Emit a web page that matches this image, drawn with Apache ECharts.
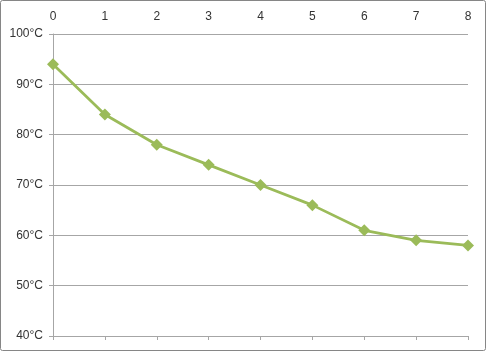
<!DOCTYPE html>
<html><head><meta charset="utf-8">
<script src="https://cdn.jsdelivr.net/npm/echarts@6/dist/echarts.min.js"></script>
<style>html,body{margin:0;padding:0;background:#fff}#c{width:487px;height:352px}</style>
</head><body><div id="c"></div>
<script>
const categories = ['0','1','2','3','4','5','6','7','8'];
const temps = [94, 84, 78, 74, 70, 66, 61, 59, 58];
const yTicks = [40, 50, 60, 70, 80, 90, 100];

const chart = echarts.init(document.getElementById('c'), null, {renderer: 'canvas'});
const font = 'Liberation Sans';
chart.setOption({
  animation: false,
  backgroundColor: '#fff',
  graphic: [{type: 'rect', shape: {x: 0.5, y: 0.5, width: 485, height: 350, r: 2},
    style: {fill: 'none', stroke: '#868686', lineWidth: 1}, silent: true, z: 100}],
  grid: {left: 53, right: 19, top: 34, bottom: 16, containLabel: false},
  xAxis: [{
    type: 'category', data: categories, boundaryGap: false, position: 'bottom',
    axisLine: {show: true, lineStyle: {color: '#a6a6a6', width: 1}},
    axisTick: {show: true, inside: false, length: 4, alignWithLabel: true, lineStyle: {color: '#a6a6a6'}},
    axisLabel: {show: false}, splitLine: {show: false}
  }, {
    type: 'category', data: categories, boundaryGap: false, position: 'top',
    axisLine: {show: false}, axisTick: {show: false},
    axisLabel: {show: true, color: '#333333', fontFamily: font, fontSize: 12, margin: 11},
    splitLine: {show: false}
  }],
  yAxis: {
    type: 'value', min: yTicks[0], max: yTicks[yTicks.length - 1], interval: 10,
    axisLine: {show: true, lineStyle: {color: '#a6a6a6', width: 1}},
    axisTick: {show: true, length: 4, lineStyle: {color: '#a6a6a6'}},
    axisLabel: {formatter: '{value}°C', color: '#333333', fontFamily: font, fontSize: 12, margin: 10},
    splitLine: {show: true, lineStyle: {color: '#a6a6a6', width: 1}}
  },
  series: [{
    type: 'line', xAxisIndex: 0, data: temps,
    symbol: 'diamond', symbolSize: 12,
    lineStyle: {color: '#9BBB59', width: 2.75},
    itemStyle: {color: '#9BBB59'}
  }]
});
</script></body></html>
